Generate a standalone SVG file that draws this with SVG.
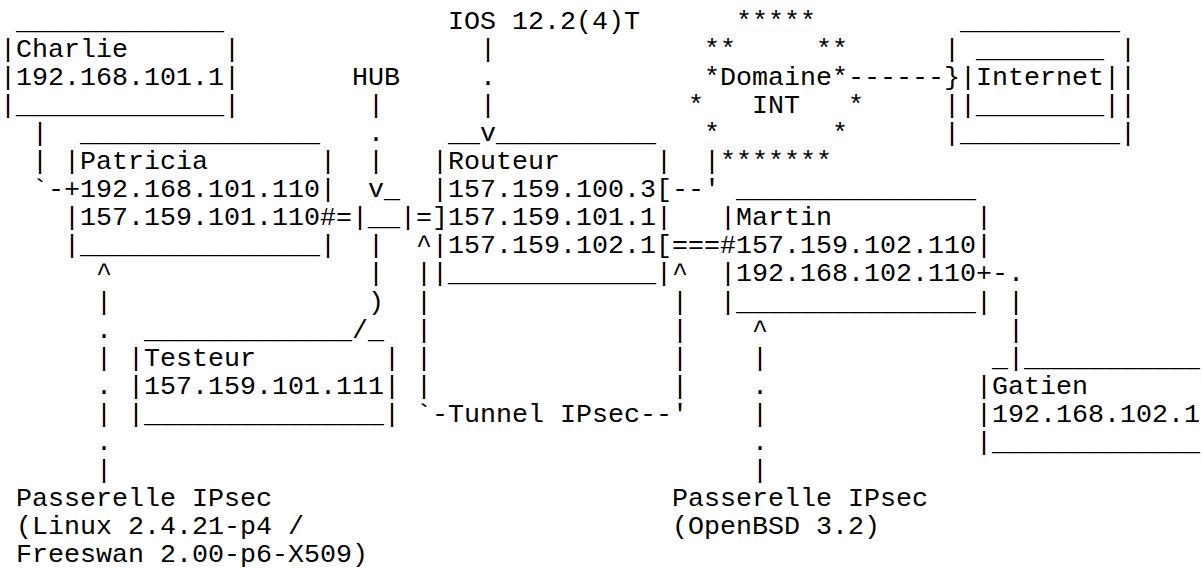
<svg xmlns="http://www.w3.org/2000/svg" width="1202" height="568" viewBox="0 0 1202 568" xml:space="preserve">
<style>
text{font-family:"Liberation Mono","Courier New",monospace;font-size:26.667px;fill:#000;white-space:pre}
</style>
<rect width="1202" height="568" fill="#fff"/>
<g id="charlie">
<text x="16" y="29">_____________</text>
<text x="0" y="57.05">|Charlie      |</text>
<text x="0" y="85.1">|192.168.101.1|</text>
<text x="0" y="113.15">|_____________|</text>
</g>
<g id="patricia">
<text x="80" y="141.2">_______________</text>
<text x="64" y="169.25">|Patricia       |</text>
<text x="64" y="197.3">+192.168.101.110|</text>
<text x="64" y="225.35">|157.159.101.110#</text>
<text x="64" y="253.4">|_______________|</text>
</g>
<g id="hub">
<text x="352" y="85.1">HUB</text>
<text x="384" y="197.3">_</text>
<text x="352" y="225.35">|__|</text>
</g>
<g id="ios-label">
<text x="448" y="29">IOS 12.2(4)T</text>
</g>
<g id="routeur">
<text x="448" y="141.2">__v__________</text>
<text x="432" y="169.25">|Routeur      |</text>
<text x="432" y="197.3">|157.159.100.3[</text>
<text x="432" y="225.35">]157.159.101.1|</text>
<text x="432" y="253.4">|157.159.102.1[</text>
<text x="432" y="281.45">|_____________|</text>
</g>
<g id="domaine-int">
<text x="736" y="29">*****</text>
<text x="704" y="57.05">**</text>
<text x="816" y="57.05">**</text>
<text x="704" y="85.1">*Domaine*</text>
<text x="688" y="113.15">*</text>
<text x="752" y="113.15">INT</text>
<text x="848" y="113.15">*</text>
<text x="704" y="141.2">*</text>
<text x="832" y="141.2">*</text>
<text x="720" y="169.25">*******</text>
</g>
<g id="internet">
<text x="960" y="29">__________</text>
<text x="944" y="57.05">| ________ |</text>
<text x="944" y="85.1">}|Internet||</text>
<text x="944" y="113.15">||________||</text>
<text x="944" y="141.2">|__________|</text>
</g>
<g id="martin">
<text x="736" y="197.3">_______________</text>
<text x="720" y="225.35">|Martin         |</text>
<text x="720" y="253.4">#157.159.102.110|</text>
<text x="720" y="281.45">|192.168.102.110+</text>
<text x="720" y="309.5">|_______________|</text>
</g>
<g id="testeur">
<text x="144" y="337.55">_____________</text>
<text x="368" y="337.55">_</text>
<text x="128" y="365.6">|Testeur        |</text>
<text x="128" y="393.65">|157.159.101.111|</text>
<text x="128" y="421.7">|_______________|</text>
</g>
<g id="gatien">
<text x="992" y="365.6">_</text>
<text x="1024" y="365.6">___________</text>
<text x="976" y="393.65">|Gatien</text>
<text x="976" y="421.7">|192.168.102.1</text>
<text x="976" y="449.75">|_____________</text>
</g>
<g id="passerelle-linux">
<text x="16" y="505.85">Passerelle IPsec</text>
<text x="16" y="533.9">(Linux 2.4.21-p4 /</text>
<text x="16" y="561.95">Freeswan 2.00-p6-X509)</text>
</g>
<g id="passerelle-openbsd">
<text x="672" y="505.85">Passerelle IPsec</text>
<text x="672" y="533.9">(OpenBSD 3.2)</text>
</g>
<g id="connectors">
<text x="32" y="141.2">|</text>
<text x="32" y="169.25">|</text>
<text x="32" y="197.3">`-</text>
<text x="368" y="113.15">|</text>
<text x="368" y="141.2">.</text>
<text x="368" y="169.25">|</text>
<text x="368" y="197.3">v</text>
<text x="336" y="225.35">=</text>
<text x="416" y="225.35">=</text>
<text x="368" y="253.4">|</text>
<text x="368" y="281.45">|</text>
<text x="368" y="309.5">)</text>
<text x="352" y="337.55">/</text>
<text x="480" y="57.05">|</text>
<text x="480" y="85.1">.</text>
<text x="480" y="113.15">|</text>
<text x="672" y="197.3">--'</text>
<text x="704" y="169.25">|</text>
<text x="848" y="85.1">------</text>
<text x="672" y="253.4">===</text>
<text x="992" y="281.45">-.</text>
<text x="1008" y="309.5">|</text>
<text x="1008" y="337.55">|</text>
<text x="1008" y="365.6">|</text>
<text x="416" y="253.4">^</text>
<text x="416" y="281.45">|</text>
<text x="416" y="309.5">|</text>
<text x="416" y="337.55">|</text>
<text x="416" y="365.6">|</text>
<text x="416" y="393.65">|</text>
<text x="416" y="421.7">`-Tunnel IPsec--'</text>
<text x="672" y="281.45">^</text>
<text x="672" y="309.5">|</text>
<text x="672" y="337.55">|</text>
<text x="672" y="365.6">|</text>
<text x="672" y="393.65">|</text>
<text x="96" y="281.45">^</text>
<text x="96" y="309.5">|</text>
<text x="96" y="337.55">.</text>
<text x="96" y="365.6">|</text>
<text x="96" y="393.65">.</text>
<text x="96" y="421.7">|</text>
<text x="96" y="449.75">.</text>
<text x="96" y="477.8">|</text>
<text x="752" y="337.55">^</text>
<text x="752" y="365.6">|</text>
<text x="752" y="393.65">.</text>
<text x="752" y="421.7">|</text>
<text x="752" y="449.75">.</text>
<text x="752" y="477.8">|</text>
</g>
</svg>
